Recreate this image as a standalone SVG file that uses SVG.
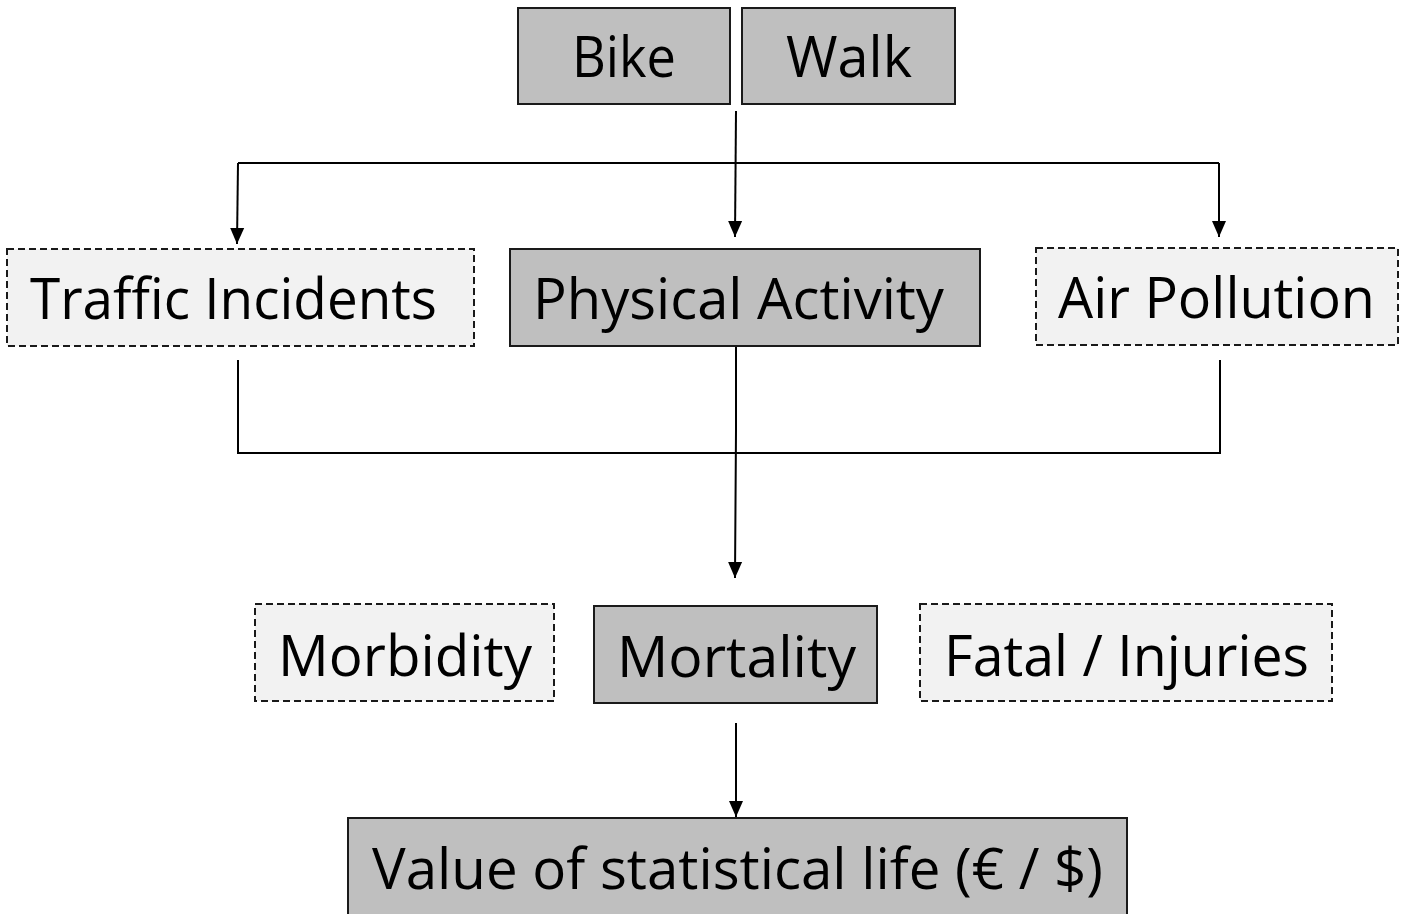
<svg xmlns="http://www.w3.org/2000/svg" width="1403" height="914" viewBox="0 0 1403 914">
<defs>
<marker id="ah" markerWidth="8" markerHeight="8" refX="8" refY="3.5" orient="auto" markerUnits="strokeWidth" overflow="visible">
<path d="M0,0 L8,3.5 L0,7 Z" fill="#000"/>
</marker>
<style>
.solid{fill:#bfbfbf;stroke:#1a1a1a;stroke-width:2}
.dash{fill:#f2f2f2;stroke:#1a1a1a;stroke-width:2;stroke-dasharray:7,4}
.t{font-family:"Open Sans","Liberation Sans",sans-serif;font-size:57px;fill:#000}
.c{fill:none;stroke:#000;stroke-width:2}
</style>
</defs>
<rect width="1403" height="914" fill="#fff"/>
<g id="connectors">
<path class="c" d="M736,111 L735,237" marker-end="url(#ah)"/>
<path class="c" d="M238,163 L1219,163"/>
<path class="c" d="M238,163 L237,244" marker-end="url(#ah)"/>
<path class="c" d="M1219,163 L1219,237" marker-end="url(#ah)"/>
<path class="c" d="M238,360 L238,453 L1220,453 L1220,360"/>
<path class="c" d="M736,346 L736,430 L735,578" marker-end="url(#ah)"/>
<path class="c" d="M736,723 L736,817" marker-end="url(#ah)"/>
</g>
<g id="bike"><rect class="solid" x="518" y="8" width="212" height="96"/><text class="t" x="572" y="77" textLength="104" lengthAdjust="spacingAndGlyphs">Bike</text></g>
<g id="walk"><rect class="solid" x="742" y="8" width="213" height="96"/><text class="t" x="786" y="77" textLength="126" lengthAdjust="spacingAndGlyphs">Walk</text></g>
<g id="traffic"><rect class="dash" x="7" y="249" width="467" height="97"/><text class="t" x="30" y="319" textLength="407" lengthAdjust="spacingAndGlyphs">Traffic Incidents</text></g>
<g id="physical"><rect class="solid" x="510" y="249" width="470" height="97"/><text class="t" x="533" y="319" textLength="411" lengthAdjust="spacingAndGlyphs">Physical Activity</text></g>
<g id="air"><rect class="dash" x="1036" y="248" width="362" height="97"/><text class="t" x="1058" y="318" textLength="317" lengthAdjust="spacingAndGlyphs">Air Pollution</text></g>
<g id="morbidity"><rect class="dash" x="255" y="604" width="299" height="97"/><text class="t" x="278" y="676" textLength="254" lengthAdjust="spacingAndGlyphs">Morbidity</text></g>
<g id="mortality"><rect class="solid" x="594" y="606" width="283" height="97"/><text class="t" x="617" y="677" textLength="239" lengthAdjust="spacingAndGlyphs">Mortality</text></g>
<g id="fatal"><rect class="dash" x="920" y="604" width="412" height="97"/><text class="t" x="944" y="676" textLength="365" lengthAdjust="spacingAndGlyphs">Fatal / Injuries</text></g>
<g id="vsl"><rect class="solid" x="348" y="818" width="779" height="100"/><text class="t" x="372" y="889" textLength="731" lengthAdjust="spacingAndGlyphs">Value of statistical life (€ / $)</text></g>
</svg>
